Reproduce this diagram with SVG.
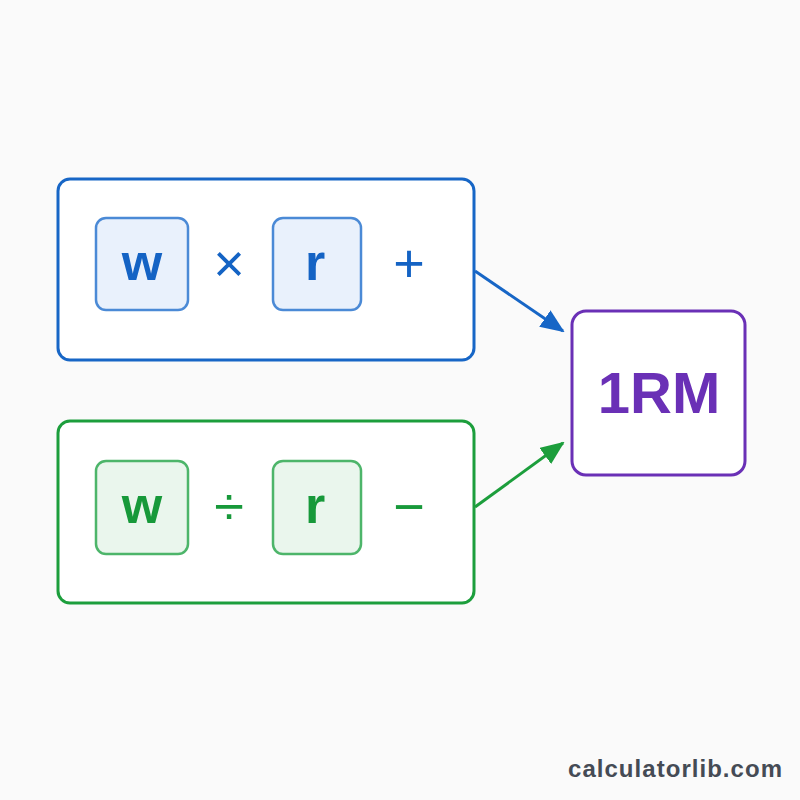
<svg xmlns="http://www.w3.org/2000/svg" width="800" height="800" viewBox="0 0 800 800">
  <style>
    .outer { fill: #ffffff; stroke-width: 3; }
    .inner { stroke-width: 2.5; }
    .b { stroke: #1766c6; }
    .g { stroke: #1c9e3c; }
    .p { stroke: #6a30b6; }
    .bi { fill: #e9f1fc; stroke: #4b8ad6; }
    .gi { fill: #eaf6ed; stroke: #4db56a; }
    .var { font-family: "Liberation Sans", Arial, sans-serif; font-weight: bold; font-size: 52px; text-anchor: middle; }
    .op { font-family: "Liberation Sans", Arial, sans-serif; font-size: 54px; text-anchor: middle; }
    .bt { fill: #1463c4; }
    .gt { fill: #17993a; }
  </style>
  <defs>
    <marker id="ab" viewBox="0 0 24 20" refX="22" refY="10" markerWidth="24" markerHeight="20" markerUnits="userSpaceOnUse" orient="auto">
      <path d="M0,0 L24,10 L0,20 Z" fill="#1766c6"/>
    </marker>
    <marker id="ag" viewBox="0 0 24 20" refX="22" refY="10" markerWidth="24" markerHeight="20" markerUnits="userSpaceOnUse" orient="auto">
      <path d="M0,0 L24,10 L0,20 Z" fill="#1c9e3c"/>
    </marker>
  </defs>
  <rect width="800" height="800" fill="#fafafa"/>

  <g id="connectors">
    <line x1="475" y1="271" x2="563" y2="331" stroke="#1766c6" stroke-width="3" marker-end="url(#ab)"/>
    <line x1="475" y1="507" x2="563" y2="443" stroke="#1c9e3c" stroke-width="3" marker-end="url(#ag)"/>
  </g>

  <g id="multiply-group">
    <rect class="outer b" x="58" y="179" width="416" height="181" rx="12"/>
    <rect class="inner bi" x="96" y="218" width="92" height="92" rx="10"/>
    <text class="var bt" x="142" y="280">w</text>
    <text class="op bt" x="229" y="282">×</text>
    <rect class="inner bi" x="273" y="218" width="88" height="92" rx="10"/>
    <text class="var bt" x="315" y="280">r</text>
    <text class="op bt" x="409" y="282">+</text>
  </g>

  <g id="divide-group">
    <rect class="outer g" x="58" y="421" width="416" height="182" rx="12"/>
    <rect class="inner gi" x="96" y="461" width="92" height="93" rx="10"/>
    <text class="var gt" x="142" y="523">w</text>
    <text class="op gt" x="229" y="525">÷</text>
    <rect class="inner gi" x="273" y="461" width="88" height="93" rx="10"/>
    <text class="var gt" x="315" y="523">r</text>
    <text class="op gt" x="409" y="525">−</text>
  </g>

  <g id="result">
    <rect class="outer p" x="572" y="311" width="173" height="164" rx="14"/>
    <text x="659" y="413" font-family="'Liberation Sans', Arial, sans-serif" font-weight="bold" font-size="58" fill="#6a30b6" text-anchor="middle">1RM</text>
  </g>

  <text x="782" y="777" font-family="'Liberation Sans', Arial, sans-serif" font-weight="bold" font-size="24" fill="#454b55" text-anchor="end" textLength="214">calculatorlib.com</text>
</svg>
